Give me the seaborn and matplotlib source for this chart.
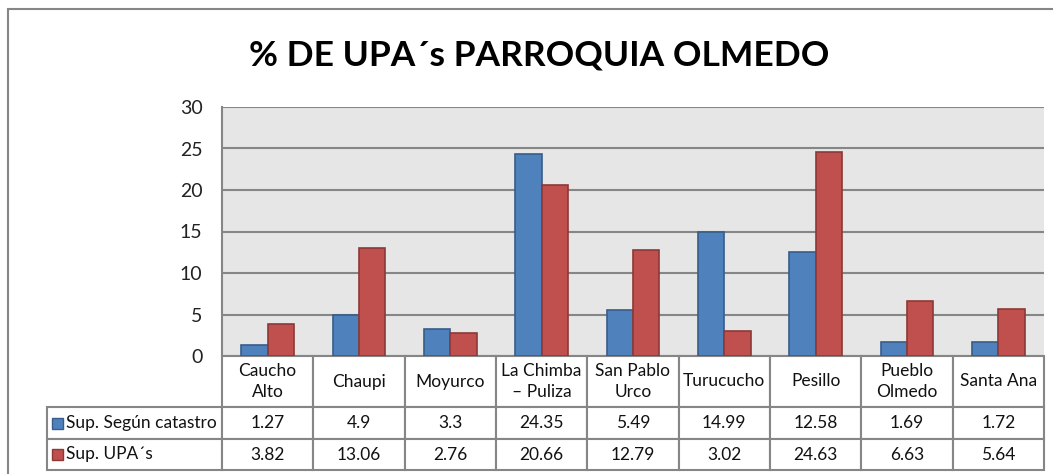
import pandas as pd
import matplotlib.pyplot as plt
from matplotlib.patches import Rectangle
import seaborn as sns

# Data
parroquias = ["Caucho\nAlto", "Chaupi", "Moyurco", "La Chimba\n– Puliza", "San Pablo\nUrco",
              "Turucucho", "Pesillo", "Pueblo\nOlmedo", "Santa Ana"]
sup_catastro = [1.27, 4.9, 3.3, 24.35, 5.49, 14.99, 12.58, 1.69, 1.72]
sup_upas = [3.82, 13.06, 2.76, 20.66, 12.79, 3.02, 24.63, 6.63, 5.64]
series = ["Sup. Según catastro", "Sup. UPA´s"]
y_ticks = [0, 5, 10, 15, 20, 25, 30]

colors = ["#4F81BD", "#C0504D"]
edge_colors = ["#385D8A", "#8C3836"]
grid_col = "#868686"

df = pd.DataFrame({
    "Parroquia": parroquias * 2,
    "Valor": sup_catastro + sup_upas,
    "Serie": [series[0]] * len(parroquias) + [series[1]] * len(parroquias),
})

sns.set_style("white")
plt.rcParams["font.family"] = ["Lato", "DejaVu Sans"]

W, H = 1053, 474
fig = plt.figure(figsize=(W / 100, H / 100), dpi=100)
ax_l, ax_r, ax_t, ax_b = 222, 1044, 107, 356
ax = fig.add_axes([ax_l / W, 1 - ax_b / H, (ax_r - ax_l) / W, (ax_b - ax_t) / H])
ax.set_facecolor("#E6E6E6")

sns.barplot(
    data=df, x="Parroquia", y="Valor", hue="Serie",
    palette=colors, width=0.58, gap=0, saturation=1,
    legend=False, ax=ax, zorder=3,
)

# darker edge on each bar
n = len(parroquias)
for i, bar in enumerate(ax.patches[: 2 * n]):
    bar.set_edgecolor(edge_colors[i // n])
    bar.set_linewidth(1.2)

ax.set_ylim(0, 30)
ax.set_xlim(-0.5, n - 0.5)
ax.set_yticks(y_ticks)
ax.set_yticklabels([str(t) for t in y_ticks], fontsize=14, color="#222222")
ax.tick_params(axis="y", length=0, pad=14)
ax.set_xticks([])
ax.set_xlabel("")
ax.set_ylabel("")
ax.grid(axis="y", color=grid_col, linewidth=1.5, zorder=0)
ax.set_axisbelow(True)
for s in ["top", "right", "bottom"]:
    ax.spines[s].set_visible(False)
ax.spines["left"].set_color(grid_col)
ax.spines["left"].set_linewidth(1.5)

# Data table under the plot
ax_w, ax_h = ax_r - ax_l, ax_b - ax_t
tab_l, tab_b = 47, 470
cell_text = [[""] + parroquias]
cell_text.append([""] + [f"{v:g}" for v in sup_catastro])
cell_text.append([""] + [f"{v:g}" for v in sup_upas])

tbl = ax.table(
    cellText=cell_text,
    cellLoc="center",
    bbox=[(tab_l - ax_l) / ax_w, -(tab_b - ax_b) / ax_h,
          (ax_r - tab_l) / ax_w, (tab_b - ax_b) / ax_h],
)
tbl.auto_set_font_size(False)
tbl.set_fontsize(12.5)
row_h = [51, 32, 31]
first_w = ax_l - tab_l
col_w = ax_w / n
for (r, c), cell in tbl.get_celld().items():
    cell.set_height(row_h[r])
    cell.set_width(first_w if c == 0 else col_w)
    cell.set_edgecolor(grid_col)
    cell.set_linewidth(1.5)
    cell.get_text().set_color("#111111")
    if r == 0:
        cell.get_text().set_linespacing(1.35)
tbl.get_celld()[(0, 0)].visible_edges = ""

# legend keys + labels in the first column
for k, name in enumerate(series):
    yc = ax_b + row_h[0] + sum(row_h[1:1 + k]) + row_h[1 + k] / 2
    sq = 11
    ax.add_patch(Rectangle(((52 - ax_l) / ax_w, (ax_b - yc - sq / 2) / ax_h),
                           sq / ax_w, sq / ax_h, transform=ax.transAxes,
                           facecolor=colors[k], edgecolor=edge_colors[k],
                           linewidth=1, clip_on=False, zorder=5))
    ax.text((66 - ax_l) / ax_w, (ax_b - yc) / ax_h, name, transform=ax.transAxes,
            ha="left", va="center", fontsize=12.5, color="#111111")

# Title
fig.text(539 / W, 1 - 56 / H, "% DE UPA´s PARROQUIA OLMEDO",
         ha="center", va="center", fontsize=25.5, fontweight="bold", color="black")

# outer chart border
fig.patches.append(Rectangle((8 / W, -0.05), 1.1, 1 - 9 / H + 0.05,
                             transform=fig.transFigure, fill=False,
                             edgecolor=grid_col, linewidth=1.5))

fig.savefig("out.png", dpi=100)
plt.close()
